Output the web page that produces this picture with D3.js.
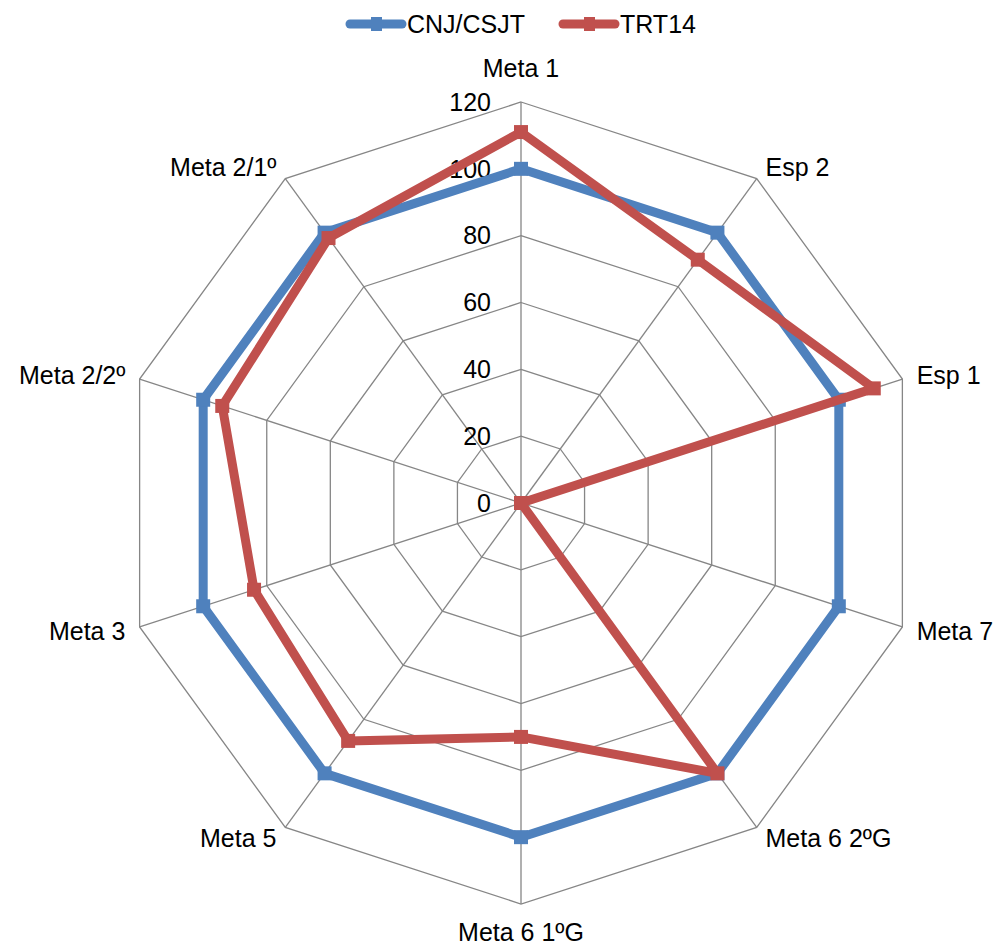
<!DOCTYPE html>
<html lang="pt">
	<head>
		<meta charset="utf-8">
		<title>CNJ/CSJT x TRT14 - Radar</title>
		<script src="https://d3js.org/d3.v7.min.js"></script>
		<style type="text/css">
body {
	margin: 0;
	background: #fff;
}
text {
	font-family: Arial, "Liberation Sans", sans-serif;
	fill: #000;
}
		</style>
	</head>

	<body>
		<script type="text/javascript">

			// categories, clockwise from the top
			var categories = ["Meta 1", "Esp 2", "Esp 1", "Meta 7", "Meta 6 2ºG",
				"Meta 6 1ºG", "Meta 5", "Meta 3", "Meta 2/2º", "Meta 2/1º"];

			// series values
			var cnjValues = [100, 100, 100, 100, 100, 100, 100, 100, 100, 100];
			var trtValues = [111, 90, 111, 0, 100, 70, 88, 84, 94, 98];

			var seriesNames = ["CNJ/CSJT", "TRT14"];
			var seriesColors = ["#4F81BD", "#C0504D"];

			// radial tick labels
			var tickValues = [0, 20, 40, 60, 80, 100, 120];

			//Width and height
			var w = 1004;
			var h = 947;
			var cx = 521, cy = 503;
			var R = 401;
			var fs = "25px";

			var svg = d3.select("body")
						.append("svg")
						.attr("width", w)
						.attr("height", h);

			var rScale = d3.scaleLinear()
				.domain([0, 120])
				.range([0, R]);

			var angle = d3.scaleLinear()
				.domain([0, categories.length])
				.range([0, 2 * Math.PI]);

			var chart = svg.append("g")
				.attr("transform", "translate(" + cx + "," + cy + ")");

			function px(i, v) { return rScale(v) * Math.sin(angle(i)); }
			function py(i, v) { return -rScale(v) * Math.cos(angle(i)); }

			// grid rings (decagons)
			chart.selectAll(".ring")
				.data(tickValues.slice(1))
				.enter()
				.append("polygon")
				.attr("class", "ring")
				.attr("points", function(t) {
					return categories.map(function(c, i) {
						return px(i, t) + "," + py(i, t);
					}).join(" ");
				})
				.style("fill", "none")
				.style("stroke", "#868686")
				.style("stroke-width", 1.3);

			// spokes
			chart.selectAll(".spoke")
				.data(categories)
				.enter()
				.append("line")
				.attr("class", "spoke")
				.attr("x1", 0)
				.attr("y1", 0)
				.attr("x2", function(d, i) { return px(i, 120); })
				.attr("y2", function(d, i) { return py(i, 120); })
				.style("stroke", "#868686")
				.style("stroke-width", 1.3);

			// tick labels on the vertical axis
			chart.selectAll(".tick")
				.data(tickValues)
				.enter()
				.append("text")
				.attr("class", "tick")
				.attr("x", -30)
				.attr("y", function(d) { return -rScale(d); })
				.attr("dy", "0.35em")
				.attr("font-size", fs)
				.style("text-anchor", "end")
				.text(function(d) { return d; });

			// category labels
			chart.selectAll(".cat")
				.data(categories)
				.enter()
				.append("text")
				.attr("class", "cat")
				.attr("font-size", fs)
				.attr("x", function(d, i) { return px(i, 120) + 15 * Math.sin(angle(i)); })
				.attr("y", function(d, i) {
					var c = Math.cos(angle(i));
					if (c > 0.99) return -R - 25;
					if (c < -0.99) return R + 37;
					return py(i, 120) - 14 * c;
				})
				.attr("dy", function(d, i) {
					return Math.abs(Math.cos(angle(i))) > 0.99 ? 0 : "0.35em";
				})
				.style("text-anchor", function(d, i) {
					var s = Math.sin(angle(i));
					return s > 0.01 ? "start" : (s < -0.01 ? "end" : "middle");
				})
				.text(function(d) { return d; });

			// series lines + markers
			var radial = d3.lineRadial()
				.angle(function(d, i) { return angle(i); })
				.radius(function(d) { return rScale(d); })
				.curve(d3.curveLinearClosed);

			[cnjValues, trtValues].forEach(function(vals, k) {
				chart.append("path")
					.attr("d", radial(vals))
					.style("fill", "none")
					.style("stroke", seriesColors[k])
					.style("stroke-width", 9)
					.style("stroke-linejoin", "round");

				chart.selectAll(".mk" + k)
					.data(vals)
					.enter()
					.append("rect")
					.attr("class", "mk" + k)
					.attr("x", function(d, i) { return px(i, d) - 7; })
					.attr("y", function(d, i) { return py(i, d) - 7; })
					.attr("width", 14)
					.attr("height", 14)
					.style("fill", seriesColors[k]);
			});

			// legend
			var legend = svg.selectAll(".legend")
				.data(seriesNames)
				.enter()
				.append("g")
				.attr("class", "legend")
				.attr("transform", function(d, i) { return "translate(" + (350 + i * 213) + ",24)"; });

			legend.append("line")
				.attr("x1", 0)
				.attr("x2", 52)
				.attr("y1", 0)
				.attr("y2", 0)
				.style("stroke", function(d, i) { return seriesColors[i]; })
				.style("stroke-width", 9)
				.style("stroke-linecap", "round");

			legend.append("rect")
				.attr("x", 21)
				.attr("y", -7)
				.attr("width", 11)
				.attr("height", 14)
				.style("fill", function(d, i) { return seriesColors[i]; });

			legend.append("text")
				.attr("x", 57)
				.attr("y", 0)
				.attr("dy", "0.35em")
				.attr("font-size", fs)
				.text(function(d) { return d; });

		</script>
	</body>
</html>
